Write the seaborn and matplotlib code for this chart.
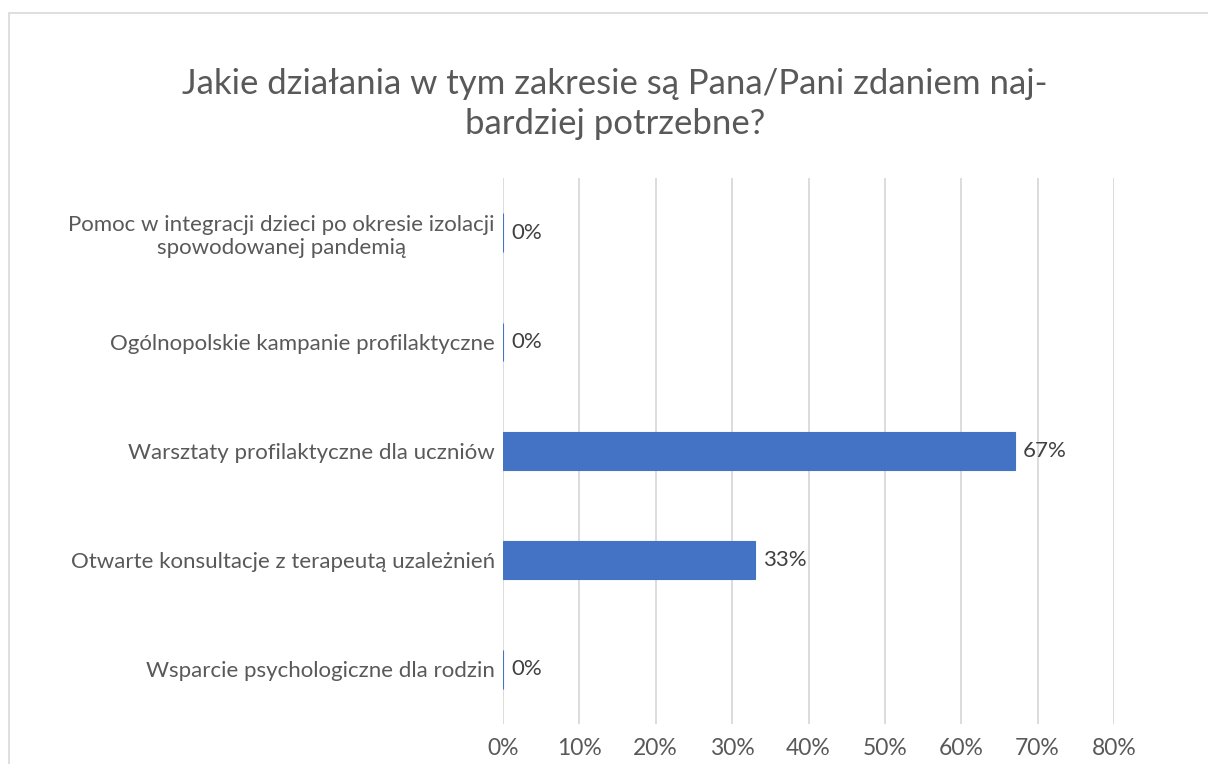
import matplotlib
matplotlib.use("Agg")
import matplotlib.pyplot as plt
import matplotlib.patches as mpatches
from matplotlib.ticker import PercentFormatter
import pandas as pd
import seaborn as sns

TITLE = "Jakie działania w tym zakresie są Pana/Pani zdaniem naj-\nbardziej potrzebne?"
CATEGORIES = [
    "Pomoc w integracji dzieci po okresie izolacji\nspowodowanej pandemią",
    "Ogólnopolskie kampanie profilaktyczne",
    "Warsztaty profilaktyczne dla uczniów",
    "Otwarte konsultacje z terapeutą uzależnień",
    "Wsparcie psychologiczne dla rodzin",
]
VALUES = [0.0, 0.0, 0.67, 0.33, 0.0]
X_TICKS = [0.0, 0.1, 0.2, 0.3, 0.4, 0.5, 0.6, 0.7, 0.8]

BAR_COLOR = "#4472C4"
TEXT_COLOR = "#595959"
LABEL_COLOR = "#404040"
GRID_COLOR = "#d9d9d9"

sns.set_theme(style="white")
plt.rcParams["font.family"] = ["Lato", "DejaVu Sans"]

df = pd.DataFrame({"category": CATEGORIES, "value": VALUES})

W, H = 1208, 764
fig = plt.figure(figsize=(W / 100, H / 100), dpi=100)
ax = fig.add_axes([503 / W, 1 - 724 / H, (1114 - 503) / W, (724 - 178) / H])

sns.barplot(data=df, x="value", y="category", orient="h", color=BAR_COLOR,
            saturation=1, width=0.35, ax=ax, edgecolor=BAR_COLOR, linewidth=0.8)

ax.set_xlim(0, 0.8)
ax.set_xticks(X_TICKS)
ax.xaxis.set_major_formatter(PercentFormatter(1.0, decimals=0))
ax.set_xlabel("")
ax.set_ylabel("")
ax.grid(axis="x", color=GRID_COLOR, linewidth=1.3)
ax.set_axisbelow(True)
for side in ["top", "right", "bottom", "left"]:
    ax.spines[side].set_visible(False)
ax.tick_params(axis="x", length=0, pad=10, labelsize=16.5, labelcolor=TEXT_COLOR)
ax.tick_params(axis="y", length=0, pad=6, labelsize=16, labelcolor=TEXT_COLOR)
for lbl in ax.get_yticklabels():
    lbl.set_horizontalalignment("right")
    lbl.set_multialignment("center")

for container in ax.containers:
    ax.bar_label(container, labels=[f"{v:.0%}" for v in VALUES], padding=6,
                 fontsize=16, color=LABEL_COLOR)

fig.text(615 / W, 1 - 104 / H, TITLE, ha="center", va="center", fontsize=25,
         color=TEXT_COLOR, linespacing=1.3)

fig.patches.append(mpatches.Rectangle((9 / W, -0.1), 1.1, 1 - 13 / H + 0.1,
                                      transform=fig.transFigure, fill=False,
                                      edgecolor=GRID_COLOR, linewidth=1.2))

fig.savefig("out.png", dpi=100)
